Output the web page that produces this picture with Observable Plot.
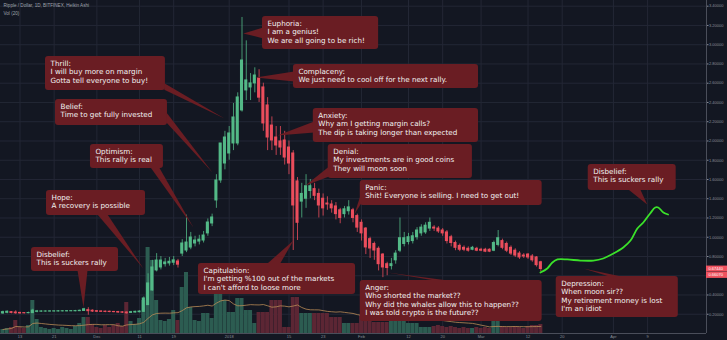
<!DOCTYPE html>
<html><head><meta charset="utf-8">
<script src="https://cdn.jsdelivr.net/npm/d3@7"></script>
<script src="https://cdn.jsdelivr.net/npm/@observablehq/plot@0.6"></script>
<style>
html,body{margin:0;padding:0;background:#131722;}
svg{display:block;}
</style></head><body><div id="chart"></div>
<script>
// ---- DATA (daily Heikin Ashi candles, first candle = 2017-11-09) ----
const firstCandleDay = -4; // days relative to 2017-11-13
const opens = [0.208,0.215,0.222,0.218,0.214,0.212,0.211,0.212,0.225,0.227,0.228,0.228,0.229,0.229,0.230,0.230,0.231,0.231,0.232,0.234,0.243,0.237,0.232,0.229,0.227,0.226,0.224,0.223,0.220,0.218,0.214,0.218,0.221,0.225,0.295,0.447,0.655,0.686,0.720,0.728,0.735,0.748,0.830,0.862,0.893,0.935,0.955,0.966,1.040,1.143,1.382,1.590,1.766,1.870,1.974,1.974,2.317,2.525,2.556,2.598,2.650,2.556,2.369,2.160,2.036,1.995,2.005,1.932,1.870,1.580,1.370,1.400,1.480,1.500,1.450,1.400,1.350,1.340,1.320,1.280,1.240,1.270,1.280,1.220,1.150,1.090,0.980,0.930,0.880,0.820,0.720,0.700,0.760,0.860,0.930,0.950,0.960,1.000,1.040,1.050,1.090,1.100,1.090,1.070,1.050,1.000,0.940,0.910,0.890,0.880,0.870,0.880,0.870,0.870,0.870,0.860,0.920,0.960,0.930,0.890,0.860,0.830,0.810,0.820,0.800,0.790,0.740];
const closes = [0.222,0.226,0.214,0.210,0.209,0.210,0.213,0.238,0.230,0.229,0.229,0.230,0.230,0.231,0.231,0.232,0.232,0.233,0.236,0.252,0.232,0.228,0.226,0.225,0.224,0.223,0.222,0.218,0.216,0.210,0.222,0.225,0.228,0.364,0.520,0.686,0.758,0.758,0.738,0.745,0.760,0.715,0.935,0.945,0.997,0.966,0.975,1.018,1.153,1.205,1.590,1.974,2.036,2.078,2.244,2.452,2.836,2.629,2.598,2.680,2.450,2.182,2.036,2.005,1.953,1.932,1.828,1.766,1.330,1.150,1.450,1.530,1.530,1.430,1.330,1.300,1.340,1.300,1.240,1.200,1.290,1.310,1.200,1.100,1.040,0.894,0.883,0.862,0.720,0.686,0.680,0.720,0.830,0.990,0.990,1.000,1.010,1.070,1.100,1.120,1.150,1.090,1.060,1.040,0.960,0.940,0.890,0.870,0.870,0.860,0.890,0.860,0.860,0.850,0.850,0.940,0.990,0.890,0.860,0.830,0.810,0.790,0.800,0.790,0.760,0.710,0.670];
const highs = [0.232,0.235,0.228,0.236,0.220,0.218,0.222,0.252,0.240,0.236,0.235,0.236,0.236,0.238,0.237,0.238,0.238,0.240,0.243,0.262,0.268,0.245,0.238,0.235,0.233,0.232,0.230,0.230,0.226,0.224,0.230,0.232,0.236,0.380,0.620,0.760,0.830,0.800,0.780,0.790,0.800,0.770,0.975,1.230,1.050,1.010,1.020,1.060,1.190,1.240,1.650,1.974,2.100,2.150,2.390,2.500,3.283,3.040,2.700,2.760,2.740,2.600,2.450,2.250,2.150,2.150,2.100,2.000,1.900,1.620,1.560,1.650,1.600,1.560,1.500,1.450,1.420,1.380,1.360,1.300,1.320,1.380,1.300,1.240,1.180,1.100,1.000,0.950,0.900,0.830,0.740,0.780,0.860,1.200,1.050,1.040,1.050,1.100,1.130,1.150,1.200,1.120,1.110,1.090,1.070,1.020,0.960,0.930,0.910,0.900,0.905,0.895,0.885,0.885,0.880,0.960,1.070,0.980,0.950,0.910,0.880,0.850,0.830,0.830,0.820,0.800,0.750];
const lows = [0.200,0.205,0.205,0.200,0.200,0.203,0.205,0.208,0.215,0.220,0.222,0.223,0.222,0.224,0.224,0.225,0.226,0.226,0.228,0.230,0.190,0.218,0.218,0.218,0.216,0.216,0.215,0.210,0.208,0.202,0.208,0.212,0.215,0.220,0.290,0.440,0.640,0.660,0.690,0.700,0.705,0.680,0.800,0.840,0.870,0.900,0.920,0.940,1.010,1.110,1.300,1.560,1.700,1.800,1.900,1.950,2.300,2.420,2.420,2.500,2.400,2.100,1.900,1.900,1.850,1.850,1.750,1.650,0.862,0.966,1.200,1.300,1.400,1.380,1.200,1.220,1.280,1.250,1.180,1.140,1.200,1.230,1.150,1.050,0.960,0.820,0.780,0.760,0.650,0.580,0.600,0.660,0.720,0.840,0.900,0.920,0.930,0.970,1.010,1.030,1.060,1.060,1.040,1.010,0.930,0.900,0.860,0.850,0.850,0.845,0.860,0.850,0.850,0.840,0.840,0.850,0.900,0.870,0.840,0.810,0.790,0.770,0.780,0.770,0.740,0.690,0.640];
// volume, millions
const volumes = [40,50,60,130,60,50,80, 330,140,60,50,40,50,40, 60,50,40,70,100,160,160, 90,60,50,80,60,80,100, 70,310,120,90,150,330,860, 730,330,130,120,140,230,130, 460,610,260,130,120,200,200, 150,700,530,330,210,210,350, 350,230,230,100,210,210,210, 330,330,330,60,60,360,360, 200,200,200,200,200,200,200, 160,160,160,100,100,100,100, 180,180,180,110,110,110,110, 230,230,230,230,100,100,100, 60,60,60,70,80,70,60, 70,60,50,60,50,50,60, 50,60,50,180,120,70,60, 60,70,60,50,70,80,80, 90];

// projected path (days from 2017-11-13, price)
const projDays = [121.9,123.5,124.7,125.9,128.2,131.3,134.3,136.6,139.0,141.3,143.0,144.6,146.0,147.6,148.8,149.5,150.7,151.8];
const projPrices = [0.634,0.675,0.738,0.769,0.769,0.758,0.758,0.779,0.831,0.894,0.966,1.091,1.153,1.247,1.309,1.309,1.257,1.236];

const tickDates = ["2017-11-13","2017-11-21","2017-12-01","2017-12-11","2017-12-19","2018-01-01","2018-01-15","2018-01-23","2018-02-01","2018-02-12","2018-02-20","2018-03-01","2018-03-12","2018-03-20","2018-04-01","2018-04-09"];
const tickLabels = ["13","21","Dec","11","19","2018","15","23","Feb","12","20","Mar","12","20","Apr","9"];
const priceTicks = [0.2,0.4,0.6,0.8,1.0,1.2,1.4,1.6,1.8,2.0,2.2,2.4,2.6,2.8,3.0,3.2,3.4];
const lastPrices = [0.6744, 0.6607];

const titleText = "Ripple / Dollar, 1D, BITFINEX, Heikin Ashi";
const volText = "Vol (20)";

// annotation callouts: box (days, price) and tail [base1, tip, base2]
const annotations = [
 {id:"euphoria", x1:56.8, x2:84.0, top:3.294, bottom:2.951, text:"Euphoria:\nI am a genius!\nWe are all going to be rich!", tail:[[57.0,3.179],[52.3,3.117],[57.0,3.065]]},
 {id:"thrill", x1:5.97, x2:34.07, top:2.878, bottom:2.525, text:"Thrill:\nI will buy more on margin\nGotta tell everyone to buy!", tail:[[33.8,2.600],[47.9,2.234],[33.8,2.532]]},
 {id:"complaceny", x1:64.05, x2:107.4, top:2.795, bottom:2.545, text:"Complaceny:\nWe just need to cool off for the next rally.", tail:[[64.2,2.722],[55.15,2.660],[64.2,2.618]]},
 {id:"belief", x1:8.31, x2:34.54, top:2.431, bottom:2.161, text:"Belief:\nTime to get fully invested", tail:[[34.3,2.296],[45.08,1.673],[34.3,2.192]]},
 {id:"anxiety", x1:68.7, x2:107.4, top:2.338, bottom:1.984, text:"Anxiety:\nWhy am I getting margin calls?\nThe dip is taking longer than expected", tail:[[68.9,2.203],[60.3,2.057],[68.9,2.088]]},
 {id:"optimism", x1:16.5, x2:33.6, top:1.964, bottom:1.714, text:"Optimism:\nThis rally is real", tail:[[30.6,1.725],[40.63,1.101],[32.6,1.725]]},
 {id:"denial", x1:72.2, x2:105.97, top:1.964, bottom:1.610, text:"Denial:\nMy investments are in good coins\nThey will moon soon", tail:[[72.4,1.735],[66.86,1.538],[72.4,1.631]]},
 {id:"hope", x1:6.2, x2:29.4, top:1.486, bottom:1.226, text:"Hope:\nA recovery is possible", tail:[[18.15,1.236],[28.9,0.675],[20.49,1.236]]},
 {id:"panic", x1:79.7, x2:122.3, top:1.590, bottom:1.330, text:"Panic:\nShit! Everyone is selling. I need to get out!", tail:[[79.9,1.455],[78.3,1.236],[79.9,1.351]]},
 {id:"disbeliefL", x1:2.69, x2:23.07, top:0.894, bottom:0.644, text:"Disbelief:\nThis is suckers rally", tail:[[13.47,0.654],[14.87,0.270],[15.81,0.654]]},
 {id:"disbeliefR", x1:133.1, x2:153.7, top:1.756, bottom:1.486, text:"Disbelief:\nThis is suckers rally", tail:[[142.5,1.496],[146.9,1.340],[145.3,1.496]]},
 {id:"capitulation", x1:41.8, x2:78.6, top:0.727, bottom:0.405, text:"Capitulation:\nI'm getting %100 out of the markets\nI can't afford to loose more", tail:[[57.7,0.717],[64.05,0.966],[60.8,0.717]]},
 {id:"anger", x1:79.7, x2:122.3, top:0.551, bottom:0.125, text:"Anger:\nWho shorted the market??\nWhy did the whales allow this to happen??\nI was told crypto is the future??", tail:[[98.5,0.541],[86.07,0.634],[101.99,0.541]]},
 {id:"depression", x1:125.6, x2:154.2, top:0.592, bottom:0.166, text:"Depression:\nWhen moon sir??\nMy retirement money is lost\nI'm an idiot", tail:[[138.8,0.582],[131.97,0.675],[142.0,0.582]]}
];

// ---- BUILD ----
const day0 = Date.UTC(2017,10,13);
const toDate = d => new Date(day0 + d*864e5);
const candles = opens.map((o,i)=>({
  day: firstCandleDay + i, date: toDate(firstCandleDay + i),
  open:o, close:closes[i], high:highs[i], low:lows[i], vol:volumes[i], up: closes[i] >= o
}));
const tickD = tickDates.map(s => new Date(s + "T00:00:00Z"));
const labelMap = new Map(tickD.map((d,i)=>[+d, tickLabels[i]]));
const proj = projDays.map((d,i)=>({date: toDate(d), price: projPrices[i]}));
const tailPts = annotations.flatMap(a => a.tail.map(([d,p]) => ({id:a.id, date: toDate(d), price:p})));

const xStart = toDate(-4.57), xEnd = toDate(160.8);
const volK = 1/962.5; // volume pane scale (price units per million)
const GREEN = "#53b987", RED = "#eb4d5c";
const VGREEN = "#2c5c51", VRED = "#5c2634";
const BOX = "#6a1d23";
const fontF = "DejaVu Sans";
const fmt5 = d3.format(".5f");

const chart = Plot.plot({
  width: 727, height: 340,
  marginLeft: 0, marginRight: 21, marginTop: 0, marginBottom: 7,
  style: {background: "#131722", color: "#8a8e98", fontFamily: "Liberation Sans", fontSize: "4px", overflow: "visible"},
  x: {type: "utc", domain: [xStart, xEnd], ticks: tickD, tickFormat: d => labelMap.get(+d), tickSize: 0, tickPadding: 1.5, label: null},
  y: {domain: [0, 3.4592], axis: "right", ticks: priceTicks, tickFormat: fmt5, tickSize: 1.5, tickPadding: 1, label: null},
  marks: [
    Plot.ruleY(priceTicks, {stroke: "#232735", strokeWidth: 1}),
    Plot.ruleX(tickD, {stroke: "#232735", strokeWidth: 1}),
    Plot.ruleX([xEnd], {stroke: "#4a4e5a", strokeWidth: 1}),
    Plot.ruleY([0], {stroke: "#4a4e5a", strokeWidth: 1}),
    // volume
    Plot.rect(candles, {x1: d => toDate(d.day - 0.47), x2: d => toDate(d.day + 0.47), y1: 0, y2: d => d.vol*volK, fill: d => d.up ? VGREEN : VRED}),
    Plot.lineY(candles, Plot.windowY({k: 20, anchor: "end"}, {x: "date", y: d => d.vol*volK, stroke: "#b98a55", strokeWidth: 0.8})),
    // candles
    Plot.ruleX(candles, {x: "date", y1: "low", y2: "high", stroke: d => d.up ? GREEN : RED, strokeWidth: 0.8}),
    Plot.rect(candles, {x1: d => toDate(d.day - 0.36), x2: d => toDate(d.day + 0.36), y1: "open", y2: "close", fill: d => d.up ? GREEN : RED, insetTop: -0.5, insetBottom: -0.5}),
    // projection
    Plot.line(proj, {x: "date", y: "price", stroke: "#3be22a", strokeWidth: 1.8, curve: "catmull-rom"}),
    // last price tags
    Plot.ruleY([lastPrices[0]], {x1: xEnd, x2: toDate(166), stroke: "#f0525f", strokeWidth: 6}),
    Plot.ruleY([lastPrices[1]], {x1: xEnd, x2: toDate(166), stroke: "#f0525f", strokeWidth: 6, dy: 5}),
    Plot.text([lastPrices[0]], {x: xEnd, y: d => d, text: d => fmt5(d), textAnchor: "start", dx: 2, fill: "#ffffff", fontSize: 4}),
    Plot.text([lastPrices[1]], {x: xEnd, y: d => d, text: d => fmt5(d), textAnchor: "start", dx: 2, dy: 5, fill: "#ffffff", fontSize: 4}),
    // callouts
    Plot.line(tailPts, {x: "date", y: "price", z: "id", fill: BOX, stroke: "none"}),
    Plot.rect(annotations, {x1: d => toDate(d.x1), x2: d => toDate(d.x2), y1: "bottom", y2: "top", fill: BOX, rx: 3}),
    Plot.text(annotations, {x: d => toDate(d.x1), y: "top", text: "text", textAnchor: "start", lineAnchor: "top", dx: 5, dy: 3.5, fontSize: 7.2, lineHeight: 1.17, fill: "#f2f2f2", fontFamily: fontF}),
    // title
    Plot.text([titleText], {frameAnchor: "top-left", dx: 3, dy: 3.5, textAnchor: "start", lineAnchor: "top", fontSize: 4.6, fill: "#9ea2ab"}),
    Plot.text([volText], {frameAnchor: "top-left", dx: 3, dy: 11, textAnchor: "start", lineAnchor: "top", fontSize: 4.6, fill: "#9ea2ab"})
  ]
});
document.getElementById("chart").appendChild(chart);
</script></body></html>
